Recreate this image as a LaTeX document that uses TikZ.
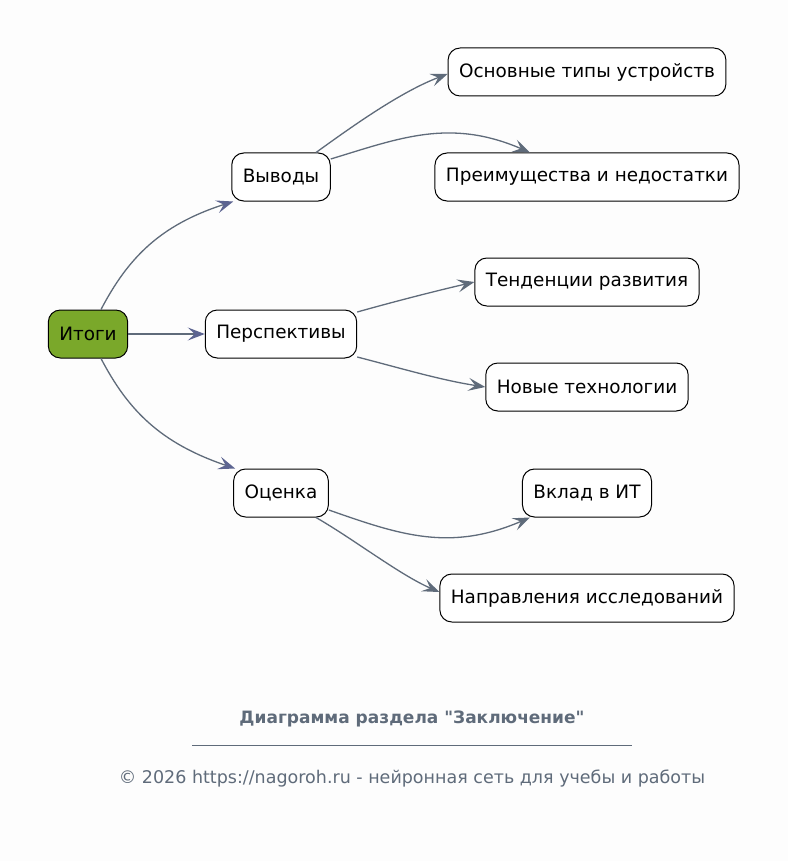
\documentclass[tikz,border=0pt]{standalone}
\usepackage{fontspec}
\setmainfont{DejaVu Sans}[Ligatures=TeXOff]
\usetikzlibrary{positioning, arrows.meta}
\definecolor{edgegray}{RGB}{95,107,122}
\definecolor{tipblue}{RGB}{92,100,145}
\definecolor{rootgreen}{RGB}{122,168,42}
\definecolor{paper}{RGB}{253,253,253}

\begin{document}
\begin{tikzpicture}
    [
        x=1pt, y=-1pt,
        base_node/.style={draw=black, line width=1pt, rounded corners=12pt, minimum height=48pt, inner xsep=11pt, font=\fontsize{18.4}{22}\selectfont},
        root_node/.style={base_node, fill=rootgreen},
        topic_node/.style={base_node, fill=white},
        leaf_node/.style={base_node, fill=white},
        root_edge/.style={-{Stealth[length=17pt, width=13pt, inset=7pt, color=tipblue]}, line width=1.3pt, color=edgegray},
        leaf_edge/.style={-{Stealth[length=17pt, width=13pt, inset=7pt]}, line width=1.3pt, color=edgegray},
    ]
        \fill[paper] (0,0) rectangle (788,861);
        \node[root_node] (root) at (88,334) {Итоги} ;
        \node[topic_node] (res) at (281,177) {Выводы} ;
        \node[topic_node] (persp) at (281,334) {Перспективы} ;
        \node[topic_node] (eval) at (281,493) {Оценка} ;
        \node[leaf_node] (types) at (587,72) {Основные типы устройств} ;
        \node[leaf_node] (pros) at (587,177) {Преимущества и недостатки} ;
        \node[leaf_node] (trends) at (587,282) {Тенденции развития} ;
        \node[leaf_node] (tech) at (587,387) {Новые технологии} ;
        \node[leaf_node] (contrib) at (587,493) {Вклад в ИТ} ;
        \node[leaf_node] (research) at (587,598) {Направления исследований} ;
        % edges from the root
        \draw[root_edge] ([xshift=13pt]root.north) .. controls (128,258) and (160,225) .. ([xshift=2pt]res.south west) ;
        \draw[root_edge] (root) -- (persp) ;
        \draw[root_edge] ([xshift=13pt]root.south) .. controls (128,410) and (160,443) .. ([xshift=2pt]eval.north west) ;
        % edges to the leaves
        \draw[leaf_edge] ([xshift=35pt]res.north) .. controls (350,128) and (400,92) .. ([yshift=-2pt]types.west) ;
        \draw[leaf_edge] ([yshift=18pt]res.east) .. controls (400,138) and (450,118) .. ([xshift=-57pt]pros.north) ;
        \draw[leaf_edge] ([yshift=22pt]persp.east) .. controls (400,300) and (440,290) .. (trends.west) ;
        \draw[leaf_edge] ([yshift=-23pt]persp.east) .. controls (400,368) and (440,380) .. (tech.west) ;
        \draw[leaf_edge] ([yshift=-17pt]eval.east) .. controls (400,535) and (450,552) .. ([xshift=-57pt]contrib.south) ;
        \draw[leaf_edge] ([xshift=35pt]eval.south) .. controls (355,540) and (400,575) .. ([yshift=6pt]research.west) ;
        % caption
        \node[font=\bfseries\fontsize{17}{20}\selectfont, text=edgegray] (title) at (412,719) {Диаграмма раздела "Заключение"} ;
        \coordinate (ruleL) at (192,745) ;
        \coordinate (ruleR) at (632,745) ;
        \draw[edgegray, line width=0.8pt] (ruleL) -- (ruleR) ;
        \node[font=\fontsize{17.5}{20}\selectfont, text=edgegray] (credit) at (412,779) {© 2026 https://nagoroh.ru - нейронная сеть для учебы и работы} ;
    \end{tikzpicture}
\end{document}
